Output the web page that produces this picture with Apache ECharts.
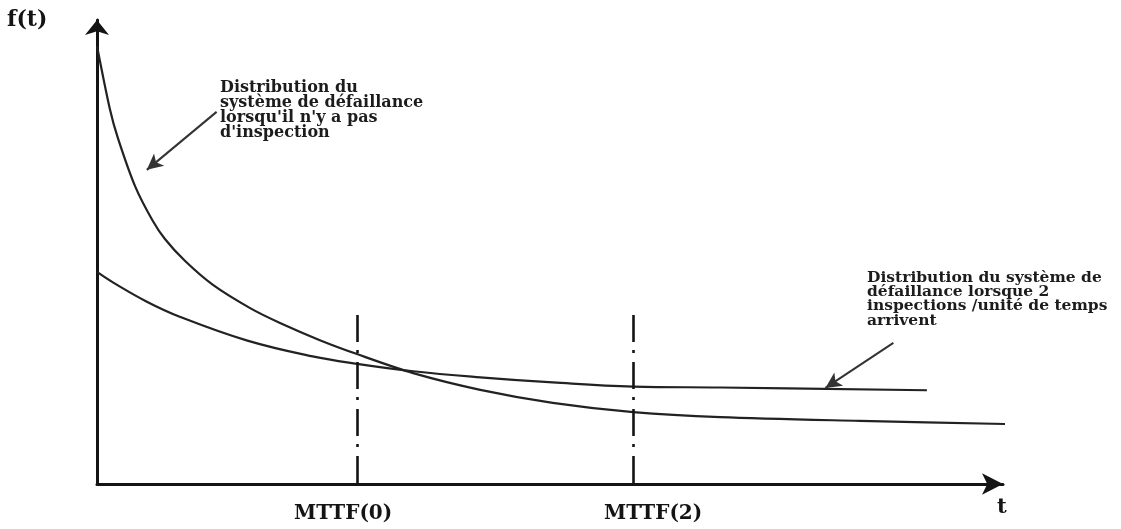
<!DOCTYPE html>
<html>
<head>
<meta charset="utf-8">
<script src="https://cdn.jsdelivr.net/npm/echarts@6/dist/echarts.min.js"></script>
<style>
html,body{margin:0;padding:0;background:#fff;}
#chart{width:1121px;height:529px;}
</style>
</head>
<body>
<div id="chart"></div>
<script>
// Curve: failure distribution without inspection
const tNoInsp = [0.00, 0.14, 0.23, 0.42, 0.61, 0.75, 0.97, 1.28, 1.69, 2.02, 2.46, 2.87, 3.49, 4.23, 5.03, 5.92, 6.88, 8.42, 10.11];
const fNoInsp = [9.44, 8.10, 7.46, 6.42, 5.69, 5.28, 4.81, 4.29, 3.79, 3.47, 3.10, 2.80, 2.39, 2.03, 1.75, 1.55, 1.44, 1.36, 1.29];
// Curve: failure distribution with 2 inspections / time unit
const tInsp2 = [0.00, 0.18, 0.55, 0.92, 1.66, 2.38, 2.87, 3.49, 4.23, 5.03, 5.92, 6.88, 9.16];
const fInsp2 = [4.57, 4.34, 3.93, 3.60, 3.09, 2.75, 2.59, 2.43, 2.30, 2.19, 2.10, 2.08, 2.02];
// MTTF reference lines
const mttfT = [2.87, 5.92];
const mttfTop = 3.64;
const mttfLabels = ['MTTF(0)', 'MTTF(2)'];
// Annotations
const noteNoInsp = ['Distribution du', 'système de défaillance', "lorsqu'il n'y a pas", "d'inspection"];
const noteInsp2 = ['Distribution du système de', 'défaillance lorsque 2', 'inspections /unité de temps', 'arrivent'];
const arrowNoInsp = [[1.32, 8.02], [0.55, 6.77]];
const arrowInsp2 = [[8.79, 3.04], [8.04, 2.07]];
const yName = 'f(t)';
const xName = 't';

const pair = (ts, fs) => ts.map((t, i) => [t, fs[i]]);
const chart = echarts.init(document.getElementById('chart'), null, {renderer: 'canvas'});
const FONT = 'DejaVu Serif';
const ink = '#141414';

const option = {
  backgroundColor: '#ffffff',
  animation: false,
  grid: {left: 97, right: 118, top: 20, bottom: 45},
  xAxis: {
    type: 'value', min: 0, max: 10,
    axisLine: {show: true, lineStyle: {color: ink, width: 3}, symbol: ['none', 'arrow'], symbolSize: [16, 21]},
    axisTick: {show: false}, axisLabel: {show: false}, splitLine: {show: false}
  },
  yAxis: {
    type: 'value', min: 0, max: 10,
    axisLine: {show: true, lineStyle: {color: ink, width: 3}, symbol: ['none', 'arrow'], symbolSize: [18, 15]},
    axisTick: {show: false}, axisLabel: {show: false}, splitLine: {show: false}
  },
  series: [
    {
      type: 'line', name: 'sans inspection', data: pair(tNoInsp, fNoInsp),
      smooth: 0.3, showSymbol: false, clip: false, z: 3,
      lineStyle: {color: '#222', width: 2.2},
      markLine: {
        silent: true, symbol: ['none', 'none'], label: {show: false},
        data: mttfT.map(t => [
          {coord: [t, mttfTop], lineStyle: {color: ink, width: 2.6, type: [27, 8, 3, 9]}},
          {coord: [t, 0]}
        ]).concat([
          [{coord: arrowNoInsp[0], symbol: 'none', lineStyle: {color: '#333', width: 2, type: 'solid'}},
           {coord: arrowNoInsp[1], symbol: 'arrow', symbolSize: [12, 16]}],
          [{coord: arrowInsp2[0], symbol: 'none', lineStyle: {color: '#333', width: 2, type: 'solid'}},
           {coord: arrowInsp2[1], symbol: 'arrow', symbolSize: [12, 16]}]
        ])
      }
    },
    {
      type: 'line', name: '2 inspections', data: pair(tInsp2, fInsp2),
      smooth: 0.4, showSymbol: false, clip: false, z: 3,
      lineStyle: {color: '#222', width: 2.2}
    }
  ],
  graphic: [
    {type: 'text', left: 7, top: 9, style: {text: yName, font: 'bold 22px "' + FONT + '"', fill: ink}},
    {type: 'text', left: 997, top: 497, style: {text: xName, font: 'bold 21px "' + FONT + '"', fill: ink}},
    {type: 'text', left: 294, top: 504, style: {text: mttfLabels[0], font: 'bold 20px "' + FONT + '"', fill: ink}},
    {type: 'text', left: 604, top: 504, style: {text: mttfLabels[1], font: 'bold 20px "' + FONT + '"', fill: ink}},
    {type: 'text', left: 220, top: 80, style: {text: noteNoInsp.join('\n'), font: 'bold 16px "' + FONT + '"', lineHeight: 14.8, fill: '#1c1c1c'}},
    {type: 'text', left: 867, top: 270, style: {text: noteInsp2.join('\n'), font: 'bold 15.5px "' + FONT + '"', lineHeight: 14.2, fill: '#1c1c1c'}}
  ]
};
chart.setOption(option);
</script>
</body>
</html>
